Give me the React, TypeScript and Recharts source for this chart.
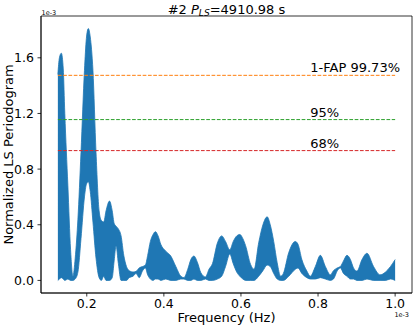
import {
  ComposedChart,
  Area,
  XAxis,
  YAxis,
  ReferenceLine,
  ReferenceDot,
  ReferenceArea,
} from "recharts";

// frequency grid in units of 1e-3 Hz
const freqs = [
  0.125, 0.129, 0.134, 0.139, 0.143, 0.151, 0.158, 0.164, 0.17, 0.177,
  0.185, 0.194, 0.199, 0.204, 0.209, 0.216, 0.224, 0.232, 0.238, 0.244,
  0.25, 0.259, 0.266, 0.271, 0.276, 0.282, 0.289, 0.296, 0.303, 0.31,
  0.32, 0.328, 0.336, 0.345, 0.352, 0.358, 0.365, 0.372, 0.378, 0.385,
  0.392, 0.405, 0.418, 0.431, 0.444, 0.452, 0.462, 0.47, 0.478, 0.487,
  0.496, 0.508, 0.517, 0.526, 0.539, 0.55, 0.56, 0.571, 0.58, 0.589,
  0.597, 0.605, 0.612, 0.625, 0.634, 0.646, 0.657, 0.668, 0.676, 0.685,
  0.694, 0.703, 0.71, 0.724, 0.741, 0.748, 0.758, 0.771, 0.78, 0.793,
  0.806, 0.819, 0.832, 0.84, 0.85, 0.858, 0.866, 0.875, 0.884, 0.892,
  0.901, 0.914, 0.927, 0.944, 0.961, 0.975, 0.988, 1.0,
];

// upper / lower envelope of the periodogram (units of 1e-3)
const upperEnv = [
  1.48, 1.6, 1.633, 1.52, 1.2, 0.68, 0.22, 0.03, 0.16, 0.44,
  0.92, 1.51, 1.74, 1.81, 1.75, 1.51, 0.92, 0.5, 0.43, 0.42,
  0.5, 0.57, 0.5, 0.41, 0.39, 0.37, 0.32, 0.18, 0.1, 0.07,
  0.06, 0.065, 0.09, 0.1, 0.11, 0.18, 0.28, 0.33, 0.35, 0.32,
  0.26, 0.21, 0.175, 0.1, 0.03, 0.02, 0.08, 0.15, 0.175, 0.13,
  0.055, 0.025, 0.08, 0.12, 0.27, 0.32, 0.28, 0.22, 0.28, 0.32,
  0.33, 0.3, 0.25, 0.115, 0.08, 0.27, 0.4, 0.457, 0.4, 0.28,
  0.127, 0.03, 0.05, 0.2, 0.28, 0.26, 0.15, 0.067, 0.03, 0.1,
  0.18, 0.1, 0.04, 0.07, 0.09, 0.1, 0.14, 0.18, 0.15, 0.09,
  0.067, 0.15, 0.195, 0.1, 0.04, 0.06, 0.1, 0.15,
];

const lowerEnv = [
  0.0, 0.01, 0.02, 0.01, 0.0, 0.01, 0.0, 0.0, 0.01, 0.06,
  0.3, 0.6, 0.69, 0.71, 0.64, 0.42, 0.16, 0.02, 0.0, 0.03,
  0.0, 0.0, 0.02, 0.14, 0.25, 0.12, 0.0, 0.0, 0.0, 0.02,
  0.03, 0.05, 0.02, 0.07, 0.09, 0.04, 0.01, 0.0, 0.01, 0.01,
  0.0, 0.01, 0.0, 0.0, 0.01, 0.01, 0.0, 0.0, 0.01, 0.0,
  0.0, 0.01, 0.0, 0.0, 0.01, 0.03, 0.1, 0.19, 0.12, 0.06,
  0.03, 0.01, 0.0, 0.0, 0.0, 0.03, 0.07, 0.11, 0.1, 0.05,
  0.01, 0.0, 0.0, 0.03, 0.08, 0.09, 0.05, 0.02, 0.01, 0.01,
  0.02, 0.01, 0.0, 0.01, 0.07, 0.09, 0.05, 0.03, 0.01, 0.01,
  0.0, 0.0, 0.01, 0.0, 0.0, 0.0, 0.01, 0.0,
];

const fapLevels = [1.474, 1.156, 0.933];
const fapLabels = ["1-FAP 99.73%", "95%", "68%"];
const fapColors = ["#ff7f0e", "#2ca02c", "#d62728"];
const fapLabelX = 0.78;

const xTicks = [0.2, 0.4, 0.6, 0.8, 1.0];
const yTicks = [0.0, 0.4, 0.8, 1.2, 1.6];

const xDomain = [0.08125, 1.04375];
const yDomain = [-0.0905, 1.9005];

const FONT = "DejaVu Sans, sans-serif";

const data = freqs.map((f, i) => ({ f, band: [lowerEnv[i], upperEnv[i]] }));

const tickStyle = { fontSize: 12.5, fill: "#000", fontFamily: FONT };
const axisStroke = { stroke: "#000", strokeWidth: 0.8 };

export default function App() {
  return (
    <div
      style={{
        position: "absolute",
        left: 0,
        top: 0,
        width: 415,
        height: 328,
        background: "#fff",
        fontFamily: FONT,
      }}
    >
      <ComposedChart
        width={415}
        height={328}
        data={data}
        margin={{ top: 16, right: 3, bottom: 0, left: 0 }}
      >
        <XAxis
          dataKey="f"
          type="number"
          domain={xDomain}
          allowDataOverflow
          ticks={xTicks}
          tickFormatter={(v: number) => v.toFixed(1)}
          tick={tickStyle}
          tickSize={3.5}
          tickMargin={3}
          tickLine={axisStroke}
          axisLine={axisStroke}
          height={35}
        />
        <YAxis
          type="number"
          domain={yDomain}
          allowDataOverflow
          ticks={yTicks}
          tickFormatter={(v: number) => v.toFixed(1)}
          tick={tickStyle}
          tickSize={3.5}
          tickMargin={3.5}
          tickLine={axisStroke}
          axisLine={axisStroke}
          width={41}
        />
        {/* axes frame */}
        <ReferenceArea
          x1={xDomain[0]}
          x2={xDomain[1]}
          y1={yDomain[0]}
          y2={yDomain[1]}
          fill="none"
          fillOpacity={0}
          stroke="#000"
          strokeWidth={0.8}
          ifOverflow="visible"
        />
        <Area
          dataKey="band"
          type="monotone"
          fill="#1f77b4"
          fillOpacity={1}
          stroke="#1f77b4"
          strokeWidth={0.8}
          dot={false}
          activeDot={false}
          isAnimationActive={false}
        />
        {fapLevels.map((lvl, i) => (
          <ReferenceLine
            key={"l" + i}
            segment={[
              { x: freqs[0], y: lvl },
              { x: freqs[freqs.length - 1], y: lvl },
            ]}
            stroke={fapColors[i]}
            strokeWidth={1}
            strokeDasharray="3.7 1.6"
          />
        ))}
        {fapLevels.map((lvl, i) => (
          <ReferenceDot
            key={"t" + i}
            x={fapLabelX}
            y={lvl}
            r={0}
            fill="none"
            stroke="none"
            label={(p: any) => (
              <text
                x={p.viewBox.x}
                y={p.viewBox.y - 3}
                fontSize={13}
                fontFamily={FONT}
                fill="#000"
                textAnchor="start"
              >
                {fapLabels[i]}
              </text>
            )}
          />
        ))}
      </ComposedChart>
      <svg
        width={415}
        height={328}
        style={{ position: "absolute", left: 0, top: 0, pointerEvents: "none" }}
        fontFamily={FONT}
      >
        <text x={226.5} y={13.5} fontSize={13} textAnchor="middle" fill="#000">
          <tspan>#2 </tspan>
          <tspan fontStyle="italic">P</tspan>
          <tspan fontStyle="italic" fontSize={9.1} dy={2.5}>
            LS
          </tspan>
          <tspan dy={-2.5}>=4910.98 s</tspan>
        </text>
        <text x={41.5} y={14.8} fontSize={6.5} fill="#000">
          1e-3
        </text>
        <text x={409} y={316.8} fontSize={6.5} textAnchor="end" fill="#000">
          1e-3
        </text>
        <text x={226.5} y={322} fontSize={13} textAnchor="middle" fill="#000">
          Frequency (Hz)
        </text>
        <text
          x={13}
          y={154.5}
          fontSize={13}
          textAnchor="middle"
          fill="#000"
          transform="rotate(-90, 13, 154.5)"
        >
          Normalized LS Periodogram
        </text>
      </svg>
    </div>
  );
}
